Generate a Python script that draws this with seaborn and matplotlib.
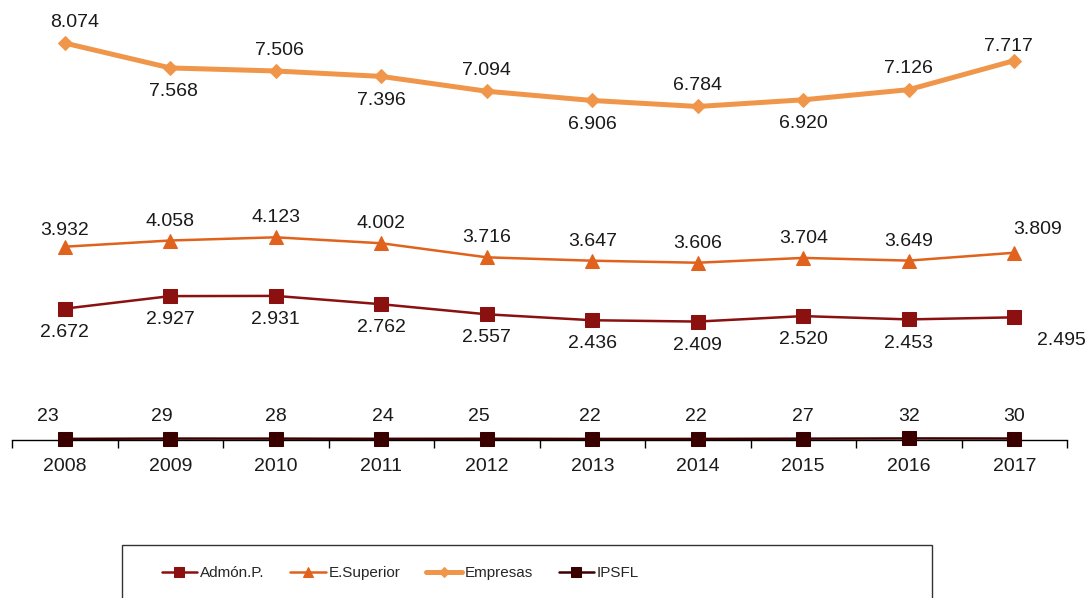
import matplotlib
matplotlib.use("Agg")
import matplotlib.pyplot as plt
from matplotlib.patches import Rectangle
import seaborn as sns
import pandas as pd

# ---------------------------------------------------------------------------
# Data
# ---------------------------------------------------------------------------
years = [2008, 2009, 2010, 2011, 2012, 2013, 2014, 2015, 2016, 2017]
admon = [2672, 2927, 2931, 2762, 2557, 2436, 2409, 2520, 2453, 2495]
esuperior = [3932, 4058, 4123, 4002, 3716, 3647, 3606, 3704, 3649, 3809]
empresas = [8074, 7568, 7506, 7396, 7094, 6906, 6784, 6920, 7126, 7717]
ipsfl = [23, 29, 28, 24, 25, 22, 22, 27, 32, 30]

series_names = ["Admón.P.", "E.Superior", "Empresas", "IPSFL"]

df = pd.DataFrame({
    "year": years,
    "Admón.P.": admon,
    "E.Superior": esuperior,
    "Empresas": empresas,
    "IPSFL": ipsfl,
})

# Styling
sns.set_theme(style="white")
plt.rcParams["font.family"] = ["Liberation Sans", "DejaVu Sans"]

STYLES = {
    "Admón.P.": dict(color="#8B1010", marker="s", linewidth=1.8, markersize=9.5),
    "E.Superior": dict(color="#E0621C", marker="^", linewidth=1.8, markersize=10),
    "Empresas": dict(color="#F0964A", marker="D", linewidth=3.6, markersize=7.5),
    "IPSFL": dict(color="#3A0000", marker="s", linewidth=1.8, markersize=9.5),
}

# label offsets in points (dx, dy)
up, down = 15, -17
label_offsets = {
    "Admón.P.": [(0, down)] * 9 + [(34, down)],
    "E.Superior": [(0, 12), (0, 14), (0, 14), (0, 14), (0, 14),
                   (0, 14), (0, 14), (0, 14), (0, 14), (17, 17)],
    "Empresas": [(7, up), (2, down), (3, up), (0, down), (0, up),
                 (0, down), (0, up), (0, down), (0, up), (-4, 10)],
    "IPSFL": [(-12, 16), (-6, 16), (0, 16), (1, 16), (-6, 16),
              (-2, 16), (-1, 16), (0, 16), (0, 16), (0, 16)],
}

fig = plt.figure(figsize=(10.89, 5.98), dpi=100)
ax = fig.add_axes([12 / 1089, 1 - 440 / 598, (1067 - 12) / 1089, 440 / 598])

for name in series_names:
    st = STYLES[name]
    sns.lineplot(data=df, x="year", y=name, ax=ax, label=name,
                 color=st["color"], marker=st["marker"],
                 linewidth=st["linewidth"], markersize=st["markersize"],
                 markeredgecolor=st["color"], clip_on=False, zorder=3)
    for x, y, (dx, dy) in zip(df["year"], df[name], label_offsets[name]):
        txt = f"{y:,}".replace(",", ".")
        ax.annotate(txt, (x, y), xytext=(dx, dy), textcoords="offset points",
                    ha="center", va="center", fontsize=14, color="#1a1a1a",
                    annotation_clip=False)

ax.set_xlim(2007.5, 2017.5)
ax.set_ylim(0, 8950)
ax.set_xlabel("")
ax.set_ylabel("")
ax.set_yticks([])
ax.set_xticks(years)
ax.set_xticklabels([str(y) for y in years], fontsize=14, color="#1a1a1a")
ax.set_xticks([y + 0.5 for y in [2007] + years], minor=True)
ax.tick_params(axis="x", which="major", length=0, pad=13)
ax.tick_params(axis="x", which="minor", length=6, width=1, color="black",
               direction="out", bottom=True)
for side in ["top", "right", "left"]:
    ax.spines[side].set_visible(False)
ax.spines["bottom"].set_color("black")
ax.spines["bottom"].set_linewidth(1)
ax.patch.set_alpha(0)

# Legend
handles, labels = ax.get_legend_handles_labels()
ax.get_legend().remove()
fig.patches.append(Rectangle((122 / 1089, -0.05), (932 - 122) / 1089,
                             (1 - 545 / 598) + 0.05, transform=fig.transFigure,
                             fill=False, edgecolor="#333333", linewidth=1))
fig.legend(handles, labels, loc="center left",
           bbox_to_anchor=(148 / 1089, 1 - 573 / 598), ncol=4, frameon=False,
           handlelength=2.3, handletextpad=0.2, columnspacing=1.7,
           markerscale=0.7, prop={"size": 11})

fig.savefig("out.png", dpi=100)
